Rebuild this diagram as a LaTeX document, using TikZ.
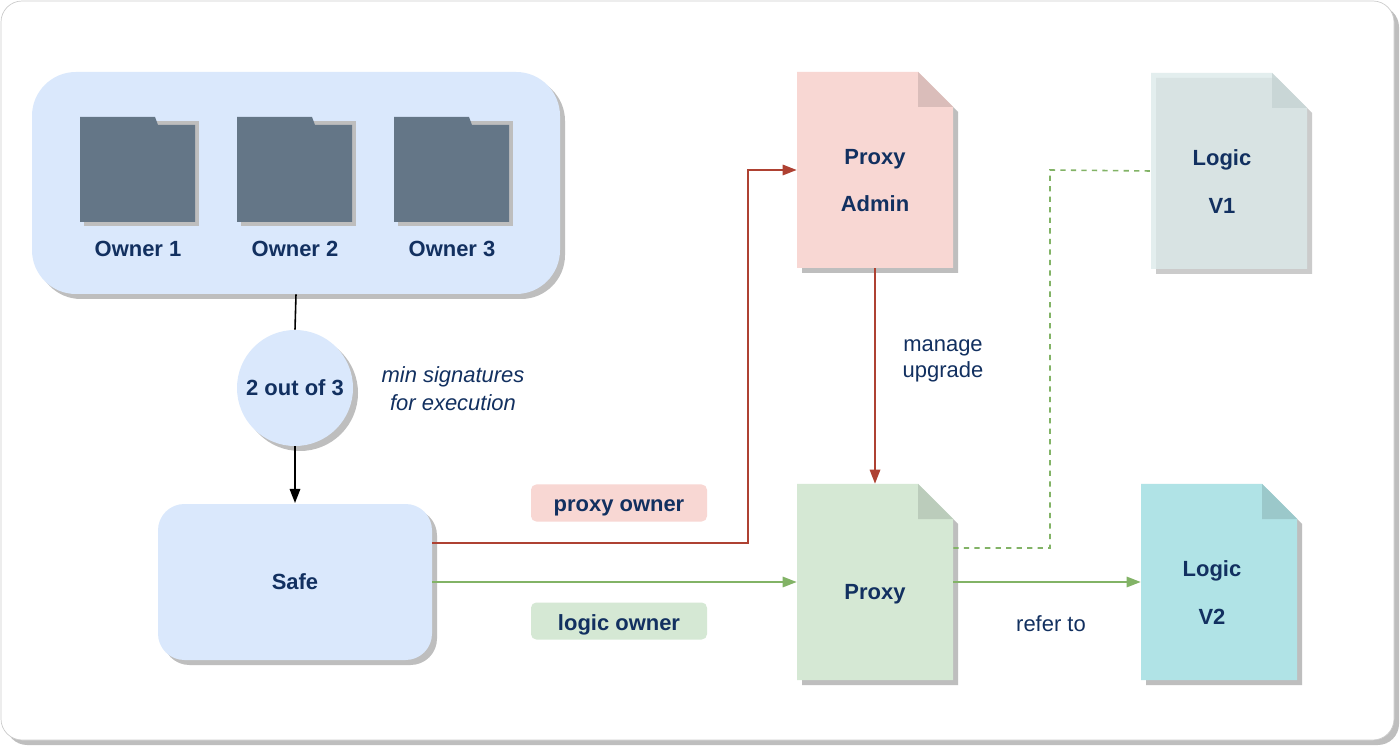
\documentclass[tikz,border=0pt]{standalone}
\usepackage{fontspec}
\setmainfont{Liberation Sans}
\usetikzlibrary{arrows.meta}
\definecolor{navy}{RGB}{18,48,96}
\definecolor{bluef}{HTML}{DAE8FC}
\definecolor{fold}{HTML}{647687}
\definecolor{redf}{HTML}{F8D7D3}
\definecolor{redl}{HTML}{AE4132}
\definecolor{greenf}{HTML}{D5E8D4}
\definecolor{greenl}{HTML}{82B366}
\definecolor{cyanf}{HTML}{B0E3E6}
\definecolor{cyanl}{HTML}{DCEAEA}
\definecolor{shad}{RGB}{190,190,190}
\begin{document}
\begin{tikzpicture}[x=0.02cm,y=-0.02cm,
  txt/.style={font=\fontsize{12.5}{15}\selectfont\bfseries,text=navy},
  box/.style={fill=bluef,draw=none},
  shadow/.style={fill=shad,draw=none},
  arr/.style={-{Triangle[length=8pt,width=6pt]},line width=0.9pt}]
\useasboundingbox (0,0) rectangle (1400,746);
% frame
\fill[shad,rounded corners=12] (6,6) rectangle (1399,745);
\fill[white,rounded corners=12] (1,1) rectangle (1394,740);
\draw[gray!40,rounded corners=12] (1,1) rectangle (1394,740);
% owners box
\fill[shadow,rounded corners=25] (37,77) rectangle (565,299);
\node[box,rounded corners=25,minimum width=528*0.02cm,minimum height=222*0.02cm] (owners) at (296,183) {};
% folders
\foreach \x/\n in {80/1,237/2,394/3}{
  \fill[shad] (\x+4,121) rectangle (\x+119,226);
  \fill[fold] (\x,222) -- (\x,117) -- (\x+75,117) -- (\x+78,125) -- (\x+115,125) -- (\x+115,222) -- cycle;
  \node[txt] (o\n) at (\x+58,249) {Owner \n};
}
% circle
\fill[shadow] (300,393) circle (58);
\node[box,circle,minimum size=116*0.02cm] (c) at (295,388) {};
\node[txt] at (c) {2 out of 3};
\node[font=\fontsize{12.5}{15}\selectfont\itshape,text=navy,align=center] (min) at (453,389) {min signatures\\[1pt]for execution};
\draw[line width=0.9pt] (owners.south) -- (c.north);
\draw[arr] (c.south) -- (295,503) coordinate (st);
% safe
\fill[shadow,rounded corners=15] (163,509) rectangle (437,665);
\node[box,rounded corners=15,minimum width=274*0.02cm,minimum height=156*0.02cm,txt] (safe) at (295,582) {Safe};
% notes
\newcommand{\note}[7]{% name, cx, cy, fill, folddark, text, opacity
  \fill[shad,opacity=#7] (#2-78+5,#3-98+5) -- (#2+43+5,#3-98+5) -- (#2+78+5,#3-63+5) -- (#2+78+5,#3+98+5) -- (#2-78+5,#3+98+5) -- cycle;
  \node[minimum width=156*0.02cm,minimum height=196*0.02cm] (#1) at (#2,#3) {};
  \fill[#4,opacity=#7] (#2-78,#3-98) -- (#2+43,#3-98) -- (#2+78,#3-63) -- (#2+78,#3+98) -- (#2-78,#3+98) -- cycle;
  \fill[#5,opacity=#7] (#2+43,#3-98) -- (#2+43,#3-63) -- (#2+78,#3-63) -- cycle;
}
\note{pa}{875}{170}{redf}{redf!88!black}{}{1}
\note{lv1}{1229}{171}{cyanl}{cyanl!90!black}{}{0.8}
\note{px}{875}{582}{greenf}{greenf!88!black}{}{1}
\note{lv2}{1219}{582}{cyanf}{cyanf!88!black}{}{1}
\node[txt,align=center] at ([yshift=-6]pa) {Proxy\\[12pt]Admin};
\node[txt,align=center] at ([yshift=-6,xshift=-4]lv1) {Logic\\[12pt]V1};
\node[txt] at ([yshift=-7]px) {Proxy};
\node[txt,align=center] at ([yshift=-6,xshift=-4]lv2) {Logic\\[12pt]V2};
% labels
\node[fill=redf,rounded corners=3,minimum width=176*0.02cm,minimum height=37*0.02cm] (lpo) at (619,503) {};
\node[txt] at ([yshift=-3]lpo) {proxy owner};
\node[fill=greenf,rounded corners=3,minimum width=176*0.02cm,minimum height=37*0.02cm] (llo) at (619,621) {};
\node[txt] at ([yshift=-2]llo) {logic owner};
\node[font=\fontsize{12.5}{15}\selectfont,text=navy,align=center] (mu) at (943,361) {manage\\upgrade};
\node[font=\fontsize{12.5}{15}\selectfont,text=navy] (rt) at (1051,624) {refer to};
% connectors
\draw[arr,redl] (safe.east |- 0,543) -- (748,543) -- (748,170) -- (pa.west);
\draw[arr,redl] (pa.south) -- (px.north);
\draw[arr,greenl] (safe.east) -- (px.west);
\draw[greenl,dashed,line width=0.9pt] (px.east |- 0,548) -- (1050,548) -- (1050,170) -- (lv1.west);
\draw[arr,greenl] (px.east) -- (lv2.west);
\end{tikzpicture}
\end{document}
